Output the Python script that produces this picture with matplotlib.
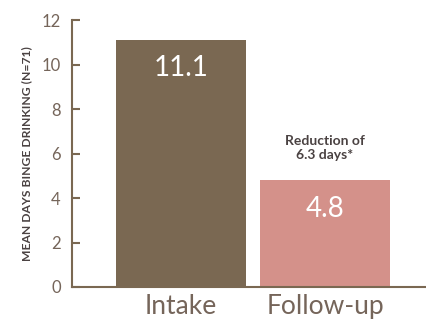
import matplotlib
matplotlib.use("Agg")
import matplotlib.pyplot as plt

categories = ["Intake", "Follow-up"]
values = [11.1, 4.8]
bar_colors = ["#7a6852", "#d4918a"]
yticks = [0, 2, 4, 6, 8, 10, 12]
ylabel = "MEAN DAYS BINGE DRINKING (N=71)"
note = "Reduction of\n6.3 days*"

axis_color = "#7a6852"
tick_text = "#75655a"
dark_text = "#4a4242"

plt.rcParams["font.family"] = ["Lato", "DejaVu Sans"]

fig = plt.figure(figsize=(4.27, 3.24), dpi=100)
ax = fig.add_axes([0.1686, 0.1142, 0.8314, 0.8238])

x = list(range(len(categories)))
ax.bar(x, values, width=0.903, color=bar_colors, zorder=2)

for xi, v in zip(x, values):
    ax.annotate(f"{v}", (xi, v), xytext=(0, -11), textcoords="offset points",
                ha="center", va="top", color="white", fontsize=20)

ax.annotate(note, (x[1], values[1]), xytext=(0, 14), textcoords="offset points",
            ha="center", va="bottom", color=dark_text, fontsize=10,
            fontweight="bold", linespacing=1.2)

ax.set_xlim(-0.757, 1.708)
ax.set_ylim(0, 12)
ax.set_yticks(yticks)
ax.set_xticks(x)
ax.set_xticklabels(categories, fontsize=19, color=tick_text)

for s in ["top", "right"]:
    ax.spines[s].set_visible(False)
for s in ["left", "bottom"]:
    ax.spines[s].set_color(axis_color)
    ax.spines[s].set_linewidth(1.5)

ax.tick_params(axis="y", direction="in", length=6, width=1.5, color=axis_color,
               labelcolor=tick_text, labelsize=12, pad=8)
ax.tick_params(axis="x", length=0, pad=5)

ax.set_ylabel(ylabel, fontsize=8.7, fontweight="bold", color=dark_text, labelpad=7)

fig.savefig("out.png", dpi=100)
